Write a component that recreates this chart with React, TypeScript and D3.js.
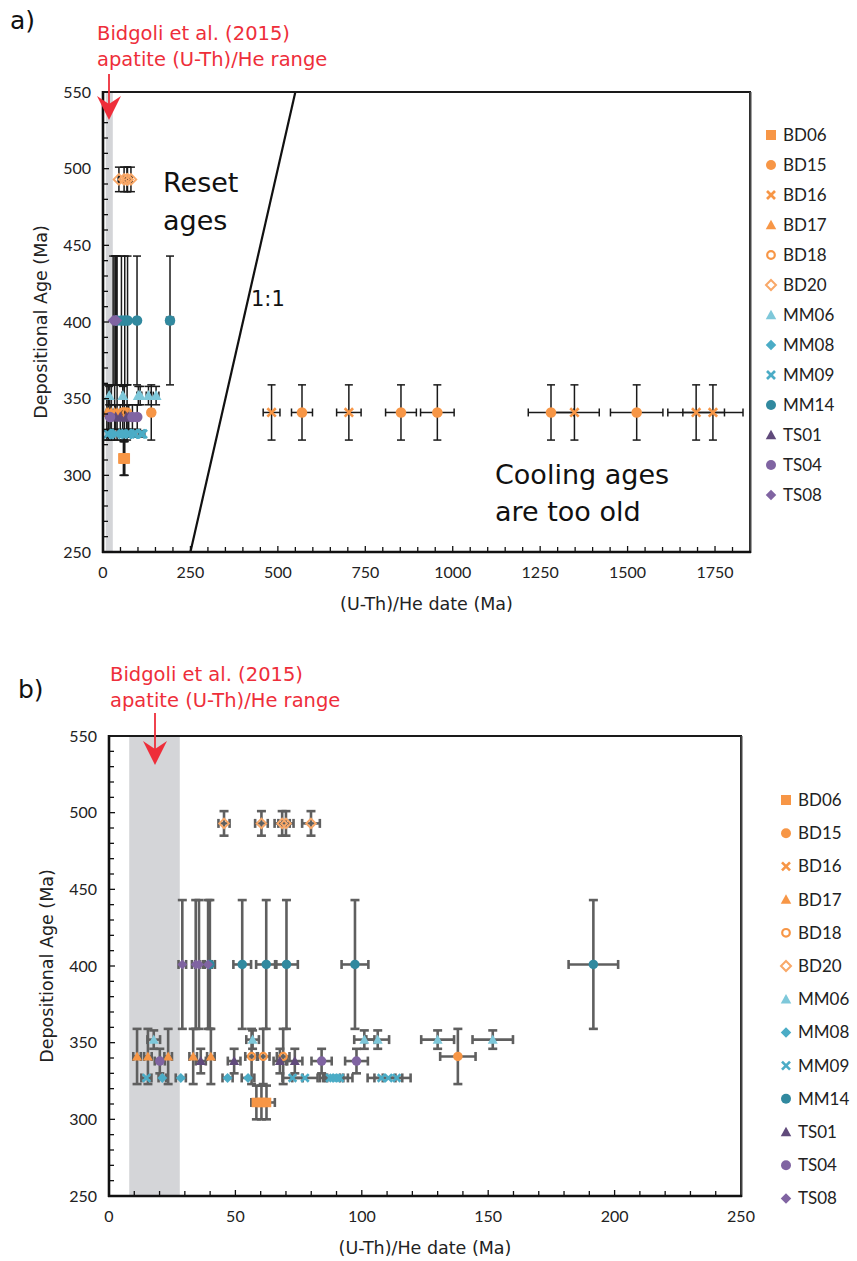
import React from "react";
import * as d3 from "d3";

// ---- data -------------------------------------------------------------
const sampleNames = ["BD06", "BD15", "BD16", "BD17", "BD18", "BD20", "MM06", "MM08", "MM09", "MM14", "TS01", "TS04", "TS08"];
// depositional age (Ma) and its uncertainty for each sample
const depositionalAge = [311, 341, 341, 341, 341, 493, 352, 327, 327, 401, 338, 338, 401];
const depositionalErr = [11, 18, 18, 18, 18, 8, 6, 0, 0, 42, 8, 8, 42];

// (U-Th)/He dates [date, ±error] in Ma
const bd06 = [[58.3, 2], [60.3, 2.5], [62.3, 3.3]];
const bd15 = [[138, 7], [569, 30], [852, 44], [956, 48], [1281, 65], [1526, 75]];
const bd16 = [[482, 24], [703, 35], [1348, 71], [1696, 81], [1744, 86]];
const bd17 = [[11.1, 1.5], [15.4, 1.5], [23.4, 1.5], [33.3, 1.5], [40.3, 1.5]];
const bd18 = [[56.4, 2.5], [61.0, 2.5], [68.9, 2.5]];
const bd20 = [[45.5, 2.2], [60.3, 2.5], [68.5, 3], [70.0, 3], [79.9, 3.5]];
const mm06 = [[17.7, 2.5], [56.8, 2.5], [101, 4], [106.3, 4.5], [130, 6.5], [151.8, 8]];
const mm08 = [[21.1, 1.5], [28.4, 2], [46.9, 2], [55.0, 2.5]];
const mm09 = [[14.8, 2], [72.6, 4], [77.5, 5], [87.4, 4], [88.7, 4], [90.0, 4.5], [91.3, 5], [107.8, 5.5], [110.5, 5.5], [113.8, 5.5]];
const mm14 = [[39.9, 2], [52.7, 3.5], [62.2, 4], [70.2, 4.5], [97.3, 5.3], [191.6, 9.8]];
const ts01 = [[36.3, 2], [49.5, 2.5], [67.6, 2.5], [73.5, 3]];
const ts04 = [[20.1, 2], [84.1, 4], [97.9, 4.5]];
const ts08 = [[29.0, 1.5], [34.3, 1.5], [35.6, 1.5], [39.2, 1.5]];
const sampleDates = [bd06, bd15, bd16, bd17, bd18, bd20, mm06, mm08, mm09, mm14, ts01, ts04, ts08];

// apatite (U-Th)/He range of Bidgoli et al. (2015)
const apatiteRange = [8, 28];

const yTicks = [250, 300, 350, 400, 450, 500, 550];
const xTicksA = [0, 250, 500, 750, 1000, 1250, 1500, 1750];
const xTicksB = [0, 50, 100, 150, 200, 250];

// ---- styling ----------------------------------------------------------
const ORANGE = "#F79646";
const LIGHT_ORANGE = "#F9A868";
const LIGHT_BLUE = "#7EC8DA";
const MID_BLUE = "#4BACC6";
const TEAL = "#31899F";
const DARK_PURPLE = "#604A7B";
const PURPLE = "#8064A2";
const RED = "#EE2E3A";
const FONT = "Lato, 'Open Sans', sans-serif";
const WIDE_FONT = "'DejaVu Sans', Verdana, sans-serif";

type Shape = "square" | "circle" | "x" | "triangle" | "ocircle" | "odiamond" | "diamond";
const markerShape: Shape[] = ["square", "circle", "x", "triangle", "ocircle", "odiamond", "triangle", "diamond", "x", "circle", "triangle", "circle", "diamond"];
const markerColor = [ORANGE, ORANGE, ORANGE, ORANGE, ORANGE, LIGHT_ORANGE, LIGHT_BLUE, MID_BLUE, MID_BLUE, TEAL, DARK_PURPLE, PURPLE, PURPLE];

function Marker({ shape, color, x, y, s }: { shape: Shape; color: string; x: number; y: number; s: number }) {
  const h = s / 2;
  switch (shape) {
    case "square":
      return <rect x={x - h} y={y - h} width={s} height={s} fill={color} />;
    case "circle":
      return <circle cx={x} cy={y} r={h} fill={color} />;
    case "ocircle":
      return <circle cx={x} cy={y} r={h - 1.2} fill="none" stroke={color} strokeWidth={2.2} />;
    case "triangle":
      return <path d={`M${x},${y - h * 1.05}L${x + h * 1.05},${y + h * 0.85}L${x - h * 1.05},${y + h * 0.85}Z`} fill={color} />;
    case "diamond":
      return <path d={`M${x},${y - h * 1.05}L${x + h * 1.05},${y}L${x},${y + h * 1.05}L${x - h * 1.05},${y}Z`} fill={color} />;
    case "odiamond":
      return <path d={`M${x},${y - h}L${x + h},${y}L${x},${y + h}L${x - h},${y}Z`} fill="none" stroke={color} strokeWidth={2} />;
    case "x": {
      const k = h * 0.8;
      return (
        <g stroke={color} strokeWidth={2.6} strokeLinecap="butt">
          <line x1={x - k} y1={y - k} x2={x + k} y2={y + k} />
          <line x1={x - k} y1={y + k} x2={x + k} y2={y - k} />
        </g>
      );
    }
  }
  return null;
}

type PanelProps = {
  x: d3.ScaleLinear<number, number>;
  y: d3.ScaleLinear<number, number>;
  xTicks: number[];
  minorX: number;
  barColor: string;
  barWidth: number;
  cap: number;
  markerSize: number;
  oneToOne?: boolean;
};

function Panel({ x, y, xTicks, minorX, barColor, barWidth, cap, markerSize, oneToOne }: PanelProps) {
  const [x0, x1] = x.range();
  const [y0, y1] = y.range(); // y0 bottom, y1 top
  const [dMin, dMax] = x.domain();
  const minorXs = d3.range(dMin, dMax + 0.001, minorX);
  const minorYs = d3.range(250, 550.001, 10);
  const clipId = oneToOne ? "clipA" : "clipB";
  return (
    <g>
      <defs>
        <clipPath id={clipId}>
          <rect x={x0} y={y1} width={x1 - x0} height={y0 - y1} />
        </clipPath>
      </defs>
      {/* shaded apatite range */}
      <rect x={x(apatiteRange[0])} y={y1} width={x(apatiteRange[1]) - x(apatiteRange[0])} height={y0 - y1} fill="#D4D5D8" />
      {/* 1:1 line */}
      {oneToOne && (
        <line x1={x(250)} y1={y(250)} x2={x(550)} y2={y(550)} stroke="#111" strokeWidth={2.2} clipPath={`url(#${clipId})`} />
      )}
      {/* error bars */}
      <g stroke={barColor} strokeWidth={barWidth} clipPath={`url(#${clipId})`}>
        {sampleDates.map((pts, si) =>
          pts.map(([d, e], i) => {
            const cx = x(d);
            const cy = y(depositionalAge[si]);
            const ey = depositionalErr[si];
            return (
              <g key={`${si}-${i}`}>
                <line x1={x(d - e)} x2={x(d + e)} y1={cy} y2={cy} />
                <line x1={x(d - e)} x2={x(d - e)} y1={cy - cap} y2={cy + cap} />
                <line x1={x(d + e)} x2={x(d + e)} y1={cy - cap} y2={cy + cap} />
                {ey > 0 && (
                  <>
                    <line x1={cx} x2={cx} y1={y(depositionalAge[si] - ey)} y2={y(depositionalAge[si] + ey)} />
                    <line x1={cx - cap} x2={cx + cap} y1={y(depositionalAge[si] - ey)} y2={y(depositionalAge[si] - ey)} />
                    <line x1={cx - cap} x2={cx + cap} y1={y(depositionalAge[si] + ey)} y2={y(depositionalAge[si] + ey)} />
                  </>
                )}
              </g>
            );
          })
        )}
      </g>
      {/* markers */}
      <g clipPath={`url(#${clipId})`}>
        {sampleDates.map((pts, si) =>
          pts.map(([d], i) => (
            <Marker key={`${si}-${i}`} shape={markerShape[si]} color={markerColor[si]} x={x(d)} y={y(depositionalAge[si])} s={markerSize} />
          ))
        )}
      </g>
      {/* ticks (inside) */}
      <g stroke="#111" strokeWidth={1.3}>
        {minorYs.map((v) => (
          <line key={`yt${v}`} x1={x0} x2={x0 + (v % 50 === 0 ? 6 : 5)} y1={y(v)} y2={y(v)} />
        ))}
        {minorXs.map((v) => (
          <line key={`xt${v}`} x1={x(v)} x2={x(v)} y1={y0} y2={y0 - (xTicks.includes(v) ? 6 : 5)} />
        ))}
      </g>
      {/* frame */}
      <rect x={x0} y={y1} width={x1 - x0} height={y0 - y1} fill="none" stroke="#1a1a1a" strokeWidth={2} />
      <line x1={x1 + 0.5} x2={x1 + 0.5} y1={y1} y2={y0 + 1} stroke="#444" strokeWidth={2} />
      <line x1={x0} x2={x0} y1={y1 - 1} y2={y0 + 1} stroke="#111" strokeWidth={2.6} />
      <line x1={x0 - 1} x2={x1 + 1} y1={y0} y2={y0} stroke="#111" strokeWidth={2.6} />
      {/* tick labels */}
      <g fontFamily={FONT} fontSize={16} fill="#222">
        {yTicks.map((v) => (
          <text key={`yl${v}`} x={x0 - 12} y={y(v) + 5.5} textAnchor="end">
            {v}
          </text>
        ))}
        {xTicks.map((v) => (
          <text key={`xl${v}`} x={x(v)} y={y0 + 26} textAnchor="middle">
            {v}
          </text>
        ))}
      </g>
      <text x={(x0 + x1) / 2} y={y0 + 58} textAnchor="middle" fontFamily={WIDE_FONT} fontSize={17.5} fill="#222">
        (U-Th)/He date (Ma)
      </text>
      <text
        transform={`translate(${x0 - 56},${(y0 + y1) / 2}) rotate(-90)`}
        textAnchor="middle"
        fontFamily={WIDE_FONT}
        fontSize={17.5}
        fill="#222"
      >
        Depositional Age (Ma)
      </text>
    </g>
  );
}

function Legend({ x, y, step, size }: { x: number; y: number; step: number; size: number }) {
  return (
    <g>
      {sampleNames.map((n, i) => (
        <g key={n}>
          <Marker shape={markerShape[i]} color={markerColor[i]} x={x} y={y + i * step} s={size} />
          <text x={x + 12} y={y + i * step + 6} fontFamily={FONT} fontSize={17} fill="#222">
            {n}
          </text>
        </g>
      ))}
    </g>
  );
}

function Arrow({ x, yTop, yTip }: { x: number; yTop: number; yTip: number }) {
  return (
    <g>
      <line x1={x} x2={x} y1={yTop} y2={yTip - 12} stroke={RED} strokeWidth={1.8} />
      <path d={`M${x - 12},${yTip - 24}L${x},${yTip - 16}L${x + 12},${yTip - 24}L${x},${yTip}Z`} fill={RED} />
    </g>
  );
}

export default function App() {
  const xA = d3.scaleLinear().domain([0, 1850]).range([103, 750]);
  const yA = d3.scaleLinear().domain([250, 550]).range([552, 92]);
  const xB = d3.scaleLinear().domain([0, 250]).range([109, 741]);
  const yB = d3.scaleLinear().domain([250, 550]).range([1196, 736]);

  return (
    <svg width={857} height={1261} style={{ position: "absolute", left: 0, top: 0, background: "#fff" }}>
      <rect width={857} height={1261} fill="#fff" />
      {/* panel a */}
      <text x={10} y={29} fontFamily={WIDE_FONT} fontSize={25} fill="#111">a)</text>
      <Panel x={xA} y={yA} xTicks={xTicksA} minorX={50} barColor="#1a1a1a" barWidth={1.5} cap={4} markerSize={10.5} oneToOne />
      <g fontFamily={WIDE_FONT} fontSize={19.5} fill={RED}>
        <text x={97} y={40}>Bidgoli et al. (2015)</text>
        <text x={97} y={66}>apatite (U-Th)/He range</text>
      </g>
      <Arrow x={109} yTop={74} yTip={120} />
      <g fontFamily={WIDE_FONT} fontSize={27} fill="#111">
        <text x={163} y={192}>Reset</text>
        <text x={163} y={230}>ages</text>
        <text x={495} y={484}>Cooling ages</text>
        <text x={495} y={521}>are too old</text>
      </g>
      <text x={251} y={306} fontFamily={WIDE_FONT} fontSize={21} fill="#111">1:1</text>
      <Legend x={771} y={135} step={30} size={10} />

      {/* panel b */}
      <text x={18} y={698} fontFamily={WIDE_FONT} fontSize={25} fill="#111">b)</text>
      <Panel x={xB} y={yB} xTicks={xTicksB} minorX={10} barColor="#5f5f5f" barWidth={2.6} cap={4.5} markerSize={9.5} />
      <g fontFamily={WIDE_FONT} fontSize={19.5} fill={RED}>
        <text x={110} y={681}>Bidgoli et al. (2015)</text>
        <text x={110} y={707}>apatite (U-Th)/He range</text>
      </g>
      <Arrow x={155} yTop={713} yTip={765} />
      <Legend x={786} y={800} step={33.2} size={10} />
    </svg>
  );
}
